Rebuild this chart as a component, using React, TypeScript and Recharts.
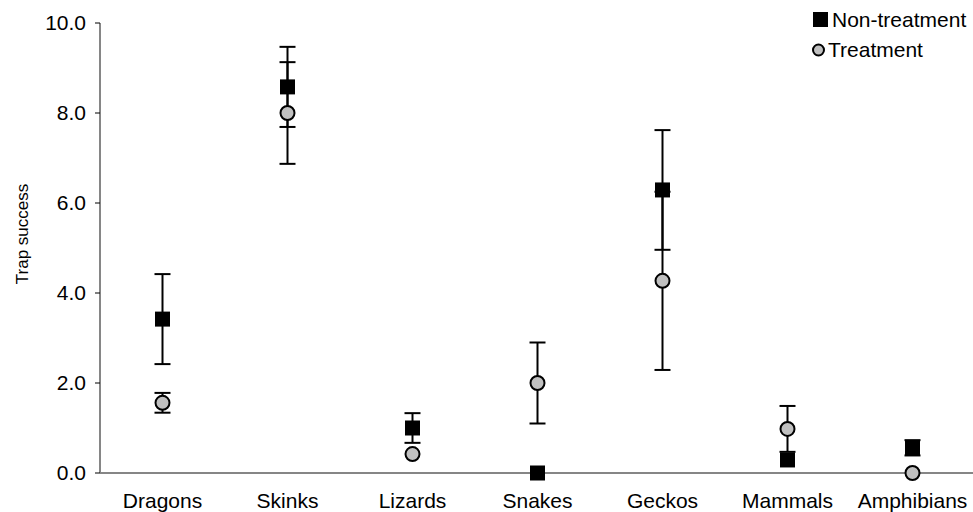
import { ComposedChart, Scatter, XAxis, YAxis, ErrorBar, Legend } from "recharts";

const groups = ["Dragons", "Skinks", "Lizards", "Snakes", "Geckos", "Mammals", "Amphibians"];
const nonTreatment = [3.42, 8.58, 1.0, 0, 6.29, 0.29, 0.56];
const nonTreatmentErr = [1.0, 0.89, 0.33, null, 1.33, null, 0.17];
const treatment = [1.56, 8.0, 0.42, 2.0, 4.27, 0.98, 0];
const treatmentErr = [0.22, 1.13, null, 0.9, 1.98, 0.51, null];
const yTicks = [0, 2, 4, 6, 8, 10];

const font = "'Liberation Sans', Arial, sans-serif";
const axisGrey = "#868686";

// each group sits in the middle of its own slot on a 0..n axis
const data = groups.map((name, i) => ({
  name,
  pos: i + 0.5,
  nt: nonTreatment[i],
  ntErr: nonTreatmentErr[i],
  tr: treatment[i],
  trErr: treatmentErr[i],
}));

const boundTicks = groups.map((_, i) => i).concat(groups.length);
const labelTicks = groups.map((_, i) => i + 0.5);

const SquareMark = (props: any) => {
  const { cx, cy } = props;
  return <rect x={cx - 7.5} y={cy - 7.5} width={15} height={15} fill="#000" />;
};

const CircleMark = (props: any) => {
  const { cx, cy } = props;
  return <circle cx={cx} cy={cy} r={7} fill="#c0c0c0" stroke="#000" strokeWidth={2} />;
};

const LegendBox = () => (
  <svg width={173} height={70} style={{ display: "block" }}>
    <rect x={13} y={12} width={15} height={15} fill="#000" />
    <text x={32} y={27} fontFamily={font} fontSize={21} fill="#000">
      Non-treatment
    </text>
    <circle cx={18.5} cy={50} r={5.5} fill="#c0c0c0" stroke="#000" strokeWidth={2} />
    <text x={28} y={57} fontFamily={font} fontSize={21} fill="#000">
      Treatment
    </text>
  </svg>
);

const YLabel = () => (
  <text
    x={28}
    y={234}
    transform="rotate(-90 28 234)"
    textAnchor="middle"
    fontFamily={font}
    fontSize={17}
    fill="#000"
  >
    Trap success
  </text>
);

export default function App() {
  return (
    <div style={{ position: "absolute", left: 0, top: 0, width: 973, height: 512, overflow: "hidden", background: "#fff" }}>
      <ComposedChart width={975} height={512} data={data} margin={{ top: 23, right: 0, left: 0, bottom: 0 }}>
        <XAxis
          xAxisId="bounds"
          type="number"
          domain={[0, groups.length]}
          ticks={boundTicks}
          tick={false}
          tickSize={5}
          height={5}
          axisLine={{ stroke: axisGrey, strokeWidth: 2 }}
          tickLine={{ stroke: "#000", strokeWidth: 1 }}
        />
        <XAxis
          xAxisId="cat"
          dataKey="pos"
          type="number"
          domain={[0, groups.length]}
          ticks={labelTicks}
          interval={0}
          tickFormatter={(v: number) => groups[Math.floor(v)]}
          axisLine={false}
          tickLine={false}
          tickSize={0}
          tickMargin={15}
          height={34}
          tick={{ fill: "#000", fontSize: 21, fontFamily: font }}
        />
        <YAxis
          type="number"
          domain={[0, 10]}
          ticks={yTicks}
          interval={0}
          width={100}
          tickSize={5}
          tickMargin={9}
          tickFormatter={(v: number) => v.toFixed(1)}
          axisLine={{ stroke: axisGrey, strokeWidth: 2 }}
          tickLine={{ stroke: "#000" }}
          tick={{ fill: "#000", fontSize: 21, fontFamily: font }}
          label={<YLabel />}
        />
        <Legend
          layout="vertical"
          align="center"
          verticalAlign="middle"
          wrapperStyle={{ top: 0, left: 800, width: 173, height: 70 }}
          content={<LegendBox />}
        />
        <Scatter xAxisId="cat" dataKey="nt" name="Non-treatment" shape={SquareMark} isAnimationActive={false}>
          <ErrorBar dataKey="ntErr" direction="y" width={8} stroke="#000" strokeWidth={2} />
        </Scatter>
        <Scatter xAxisId="cat" dataKey="tr" name="Treatment" shape={CircleMark} isAnimationActive={false}>
          <ErrorBar dataKey="trErr" direction="y" width={8} stroke="#000" strokeWidth={2} />
        </Scatter>
      </ComposedChart>
    </div>
  );
}
